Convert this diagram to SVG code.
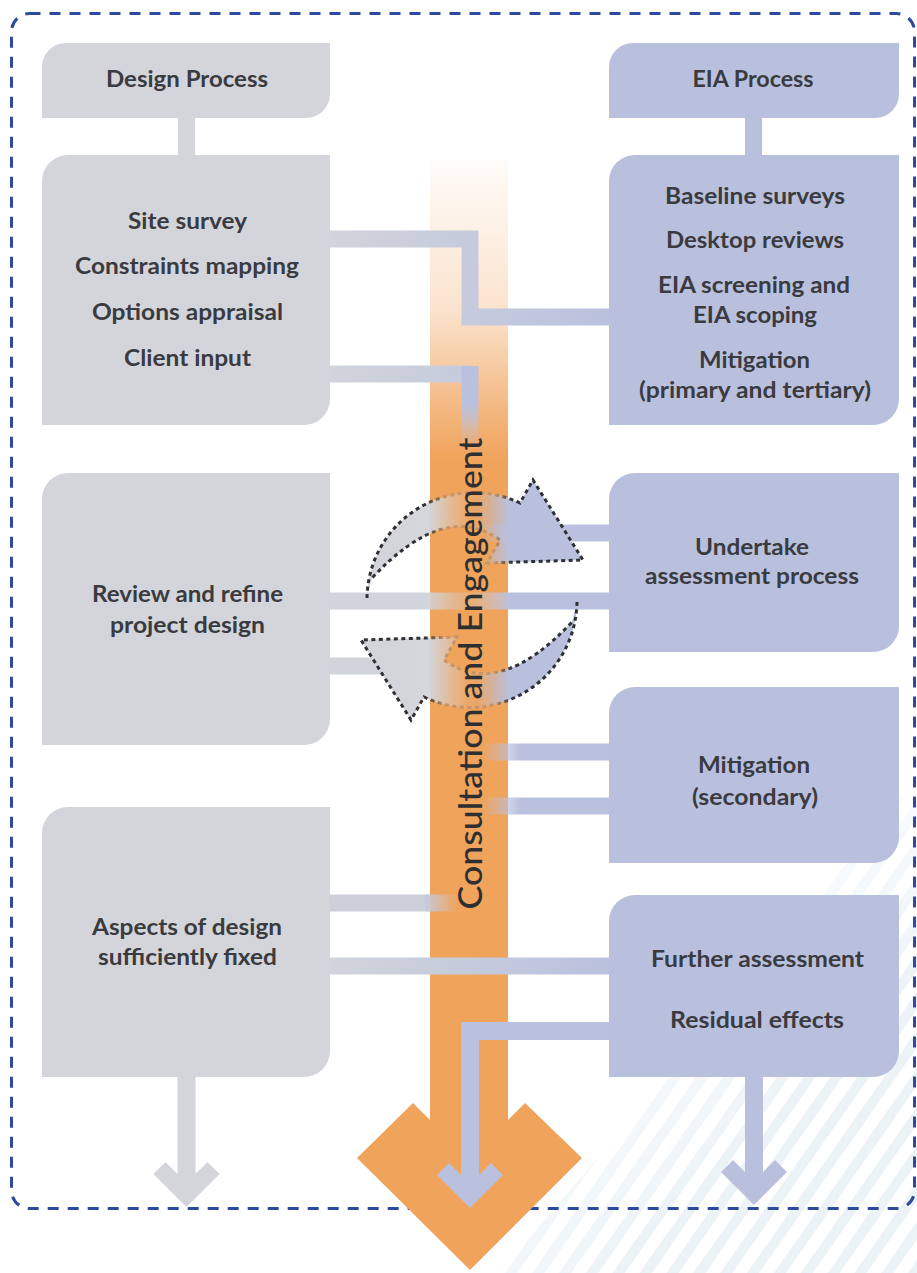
<svg xmlns="http://www.w3.org/2000/svg" width="917" height="1273" viewBox="0 0 917 1273">
  <style>
    .gray { fill: #d3d5da; }
    .lav { fill: #b9c0de; }
    .lbl { font-family: Lato, "Liberation Sans", sans-serif; font-weight: 700; font-size: 23px; fill: #3a3b40; text-anchor: middle; }
    .conn { fill: none; stroke-width: 17; }
    .dots { fill: none; stroke-width: 3; stroke-dasharray: 4 3.5; }
  </style>
  <defs>
    <pattern id="stripes" width="22" height="22" patternUnits="userSpaceOnUse" patternTransform="rotate(35)">
      <rect x="0" y="0" width="10" height="22" fill="#e9f1f6"/>
    </pattern>
    <linearGradient id="stripeFade" gradientUnits="userSpaceOnUse" x1="620" y1="960" x2="917" y2="1273">
      <stop offset="0" stop-color="#fff" stop-opacity="0"/>
      <stop offset="0.5" stop-color="#fff" stop-opacity="0.85"/>
    </linearGradient>
    <mask id="stripeMask">
      <polygon points="500,1273 917,1273 917,780" fill="url(#stripeFade)"/>
    </mask>
    <linearGradient id="gOrange" gradientUnits="userSpaceOnUse" x1="0" y1="160" x2="0" y2="460">
      <stop offset="0" stop-color="#f0a35b" stop-opacity="0.04"/>
      <stop offset="0.5" stop-color="#f0a35b" stop-opacity="0.3"/>
      <stop offset="0.85" stop-color="#f0a35b" stop-opacity="0.8"/>
      <stop offset="1" stop-color="#f0a35b" stop-opacity="1"/>
    </linearGradient>
    <linearGradient id="gConn" gradientUnits="userSpaceOnUse" x1="330" y1="0" x2="609" y2="0">
      <stop offset="0" stop-color="#d1d4db"/>
      <stop offset="1" stop-color="#bac1de"/>
    </linearGradient>
    <linearGradient id="gMid" gradientUnits="userSpaceOnUse" x1="330" y1="0" x2="609" y2="0">
      <stop offset="0" stop-color="#d1d4db"/>
      <stop offset="0.34" stop-color="#d1d4db"/>
      <stop offset="0.5" stop-color="#d8c8b8" stop-opacity="0.25"/>
      <stop offset="0.645" stop-color="#bac1de"/>
      <stop offset="1" stop-color="#bac1de"/>
    </linearGradient>
    <linearGradient id="gFadeR" gradientUnits="userSpaceOnUse" x1="482" y1="0" x2="520" y2="0">
      <stop offset="0" stop-color="#bac1de" stop-opacity="0"/>
      <stop offset="1" stop-color="#bac1de"/>
    </linearGradient>
    <linearGradient id="gFadeL" gradientUnits="userSpaceOnUse" x1="425" y1="0" x2="458" y2="0">
      <stop offset="0" stop-color="#c6cadc"/>
      <stop offset="1" stop-color="#c6cadc" stop-opacity="0"/>
    </linearGradient>
    <linearGradient id="gVert" gradientUnits="userSpaceOnUse" x1="0" y1="405" x2="0" y2="448">
      <stop offset="0" stop-color="#bac1de"/>
      <stop offset="1" stop-color="#bac1de" stop-opacity="0"/>
    </linearGradient>
    <linearGradient id="gArrowA" gradientUnits="userSpaceOnUse" x1="400" y1="0" x2="540" y2="0">
      <stop offset="0" stop-color="#d3d5da"/>
      <stop offset="0.22" stop-color="#d3d5da" stop-opacity="0.95"/>
      <stop offset="0.48" stop-color="#d3d5da" stop-opacity="0.1"/>
      <stop offset="0.55" stop-color="#b9c0de" stop-opacity="0.1"/>
      <stop offset="0.78" stop-color="#b9c0de"/>
      <stop offset="1" stop-color="#b9c0de"/>
    </linearGradient>
    <linearGradient id="gArrowB" gradientUnits="userSpaceOnUse" x1="544" y1="0" x2="404" y2="0">
      <stop offset="0" stop-color="#d3d5da"/>
      <stop offset="0.22" stop-color="#d3d5da" stop-opacity="0.95"/>
      <stop offset="0.48" stop-color="#d3d5da" stop-opacity="0.1"/>
      <stop offset="0.55" stop-color="#b9c0de" stop-opacity="0.1"/>
      <stop offset="0.78" stop-color="#b9c0de"/>
      <stop offset="1" stop-color="#b9c0de"/>
    </linearGradient>
    <linearGradient id="gDotA" gradientUnits="userSpaceOnUse" x1="400" y1="0" x2="540" y2="0">
      <stop offset="0.18" stop-color="#2f3033"/>
      <stop offset="0.32" stop-color="#c4946a"/>
      <stop offset="0.68" stop-color="#c4946a"/>
      <stop offset="0.8" stop-color="#2f3033"/>
    </linearGradient>
    <linearGradient id="gDotB" gradientUnits="userSpaceOnUse" x1="544" y1="0" x2="404" y2="0">
      <stop offset="0.18" stop-color="#2f3033"/>
      <stop offset="0.32" stop-color="#c4946a"/>
      <stop offset="0.68" stop-color="#c4946a"/>
      <stop offset="0.8" stop-color="#2f3033"/>
    </linearGradient>
    <path id="cycArrowFill" d="M367,598 A107,107 0 0 1 520,503 L533,480 L583,560 L487,563 L500,540 Q445,500 372,578 Z"/>
    <path id="cycArrowLine" d="M367,598 A107,107 0 0 1 520,503 L533,480 L583,560 L487,563 L500,540 Q445,500 372,578"/>
  </defs>

  <rect width="917" height="1273" fill="#ffffff"/>
  <rect width="917" height="1273" fill="url(#stripes)" mask="url(#stripeMask)"/>

  <rect id="frame" x="11.5" y="13.5" width="903" height="1195" rx="18" fill="none" stroke="#2c4b9e" stroke-width="3" stroke-dasharray="11 9"/>

  <g id="consultation-column">
    <path d="M430,160 H508 V1120 L525,1103 L582,1158 L470,1270 L357,1158 L413,1103 L430,1120 Z" fill="url(#gOrange)"/>
  </g>

  <g id="connectors">
    <rect x="178" y="117" width="17" height="39" fill="#d3d5da"/>
    <rect x="745" y="117" width="17" height="39" fill="#b9c0de"/>
    <path class="conn" d="M329,239 H470 V317 H610" stroke="url(#gConn)"/>
    <path class="conn" d="M329,374 H470" stroke="url(#gConn)"/>
    <path class="conn" d="M470,366 V450" stroke="url(#gVert)"/>
    <path class="conn" d="M480,533 H610" stroke="url(#gFadeR)"/>
    <path class="conn" d="M329,601 H610" stroke="url(#gMid)"/>
    <path class="conn" d="M329,666 H405" stroke="#d1d4db"/>
    <path class="conn" d="M480,752 H610" stroke="url(#gFadeR)"/>
    <path class="conn" d="M480,806 H610" stroke="url(#gFadeR)"/>
    <path class="conn" d="M329,903 H430" stroke="#cdd0db"/>
    <path class="conn" d="M425,903 H460" stroke="url(#gFadeL)"/>
    <path class="conn" d="M329,966 H610" stroke="url(#gConn)"/>
    <polygon points="177.5,1076 177.5,1174 165.5,1162 153.5,1174 186.5,1207 219.5,1174 207.5,1162 195.5,1174 195.5,1076" fill="#d3d5da"/>
    <polygon points="745,1076 745,1172 733,1160 721,1172 754,1205 787,1172 775,1160 763,1172 763,1076" fill="#b9c0de"/>
    <polygon points="610,1022 461,1022 461,1175 449,1163 437,1175 470,1208 503,1175 491,1163 479,1175 479,1040 610,1040" fill="#bac1de"/>
  </g>

  <g id="design-process">
    <path class="gray" d="M66,43 H330 V94 A24,24 0 0 1 306,118 H42 V67 A24,24 0 0 1 66,43 Z"/>
    <text class="lbl" x="187" y="87" textLength="162" lengthAdjust="spacingAndGlyphs">Design Process</text>
  </g>
  <g id="eia-process">
    <path class="lav" d="M633,43 H899 V94 A24,24 0 0 1 875,118 H609 V67 A24,24 0 0 1 633,43 Z"/>
    <text class="lbl" x="753" y="87" textLength="121" lengthAdjust="spacingAndGlyphs">EIA Process</text>
  </g>
  <g id="design-survey">
    <path class="gray" d="M68,155 H330 V399 A26,26 0 0 1 304,425 H42 V181 A26,26 0 0 1 68,155 Z"/>
    <text class="lbl" x="187.5" y="229" textLength="119" lengthAdjust="spacingAndGlyphs">Site survey</text>
    <text class="lbl" x="187" y="274" textLength="224" lengthAdjust="spacingAndGlyphs">Constraints mapping</text>
    <text class="lbl" x="187.5" y="320" textLength="191" lengthAdjust="spacingAndGlyphs">Options appraisal</text>
    <text class="lbl" x="187.5" y="366" textLength="127" lengthAdjust="spacingAndGlyphs">Client input</text>
  </g>
  <g id="eia-baseline">
    <path class="lav" d="M635,155 H899 V399 A26,26 0 0 1 873,425 H609 V181 A26,26 0 0 1 635,155 Z"/>
    <text class="lbl" x="755" y="204" textLength="180" lengthAdjust="spacingAndGlyphs">Baseline surveys</text>
    <text class="lbl" x="755" y="248" textLength="178" lengthAdjust="spacingAndGlyphs">Desktop reviews</text>
    <text class="lbl" x="754" y="293" textLength="192" lengthAdjust="spacingAndGlyphs">EIA screening and</text>
    <text class="lbl" x="755" y="323" textLength="124" lengthAdjust="spacingAndGlyphs">EIA scoping</text>
    <text class="lbl" x="754.5" y="368" textLength="111" lengthAdjust="spacingAndGlyphs">Mitigation</text>
    <text class="lbl" x="755" y="398" textLength="232" lengthAdjust="spacingAndGlyphs">(primary and tertiary)</text>
  </g>
  <g id="design-review">
    <path class="gray" d="M68,473 H330 V719 A26,26 0 0 1 304,745 H42 V499 A26,26 0 0 1 68,473 Z"/>
    <text class="lbl" x="187.5" y="602" textLength="191" lengthAdjust="spacingAndGlyphs">Review and refine</text>
    <text class="lbl" x="187.5" y="633" textLength="155" lengthAdjust="spacingAndGlyphs">project design</text>
  </g>
  <g id="eia-assessment">
    <path class="lav" d="M635,473 H899 V626 A26,26 0 0 1 873,652 H609 V499 A26,26 0 0 1 635,473 Z"/>
    <text class="lbl" x="752" y="555" textLength="114" lengthAdjust="spacingAndGlyphs">Undertake</text>
    <text class="lbl" x="752" y="584" textLength="214" lengthAdjust="spacingAndGlyphs">assessment process</text>
  </g>
  <g id="eia-mitigation">
    <path class="lav" d="M635,687 H899 V837 A26,26 0 0 1 873,863 H609 V713 A26,26 0 0 1 635,687 Z"/>
    <text class="lbl" x="754" y="773" textLength="112" lengthAdjust="spacingAndGlyphs">Mitigation</text>
    <text class="lbl" x="755" y="805" textLength="126" lengthAdjust="spacingAndGlyphs">(secondary)</text>
  </g>
  <g id="design-fixed">
    <path class="gray" d="M68,807 H330 V1051 A26,26 0 0 1 304,1077 H42 V833 A26,26 0 0 1 68,807 Z"/>
    <text class="lbl" x="187" y="935" textLength="190" lengthAdjust="spacingAndGlyphs">Aspects of design</text>
    <text class="lbl" x="187.5" y="965" textLength="179" lengthAdjust="spacingAndGlyphs">sufficiently fixed</text>
  </g>
  <g id="eia-further">
    <path class="lav" d="M635,895 H899 V1051 A26,26 0 0 1 873,1077 H609 V921 A26,26 0 0 1 635,895 Z"/>
    <text class="lbl" x="757.5" y="967" textLength="213" lengthAdjust="spacingAndGlyphs">Further assessment</text>
    <text class="lbl" x="757" y="1028" textLength="174" lengthAdjust="spacingAndGlyphs">Residual effects</text>
  </g>

  <g id="cycle">
    <use href="#cycArrowFill" fill="url(#gArrowA)"/>
    <use href="#cycArrowLine" class="dots" stroke="url(#gDotA)"/>
    <g transform="rotate(180 472 600)">
      <use href="#cycArrowFill" fill="url(#gArrowB)"/>
      <use href="#cycArrowLine" class="dots" stroke="url(#gDotB)"/>
    </g>
  </g>

  <g id="consultation-label">
    <text transform="translate(482,673.5) rotate(-90)" x="0" y="0" text-anchor="middle" font-family="Lato, 'Liberation Sans', sans-serif" font-weight="500" font-size="32" fill="#2e2f33" textLength="472" lengthAdjust="spacingAndGlyphs">Consultation and Engagement</text>
  </g>
</svg>
